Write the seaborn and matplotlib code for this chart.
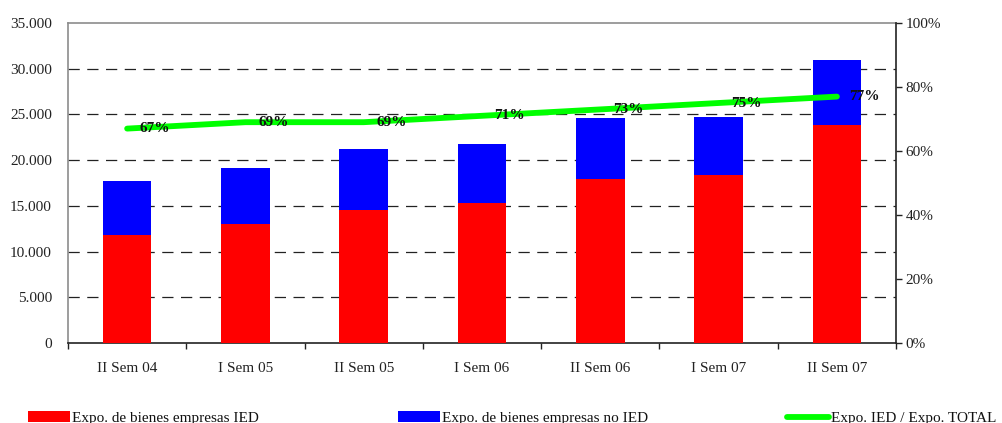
import numpy as np
import pandas as pd
import matplotlib
matplotlib.use("Agg")
import matplotlib.pyplot as plt
from matplotlib.ticker import FuncFormatter, FixedLocator, MultipleLocator
from matplotlib.patches import Patch
from matplotlib.lines import Line2D
import seaborn as sns

# Semesters and export values (USD millions)
periods = ["II Sem 04", "I Sem 05", "II Sem 05", "I Sem 06", "II Sem 06", "I Sem 07", "II Sem 07"]
expo_ied = [11800, 13050, 14600, 15300, 17900, 18400, 23850]
expo_no_ied = [5900, 6100, 6600, 6500, 6700, 6300, 7100]
ratio_ied_total = [0.67, 0.69, 0.69, 0.71, 0.73, 0.75, 0.77]
ratio_labels = ["67%", "69%", "69%", "71%", "73%", "75%", "77%"]

legend_labels = ["Expo. de bienes empresas IED",
                 "Expo. de bienes empresas no IED",
                 "Expo. IED / Expo. TOTAL"]

RED = "#ff0000"
BLUE = "#0000ff"
GREEN = "#00ff00"
FS = 11

sns.set_theme(style="white")
plt.rcParams["font.family"] = ["Liberation Serif", "DejaVu Serif"]
plt.rcParams["font.size"] = FS

df = pd.DataFrame({
    "periodo": periods,
    "ied": expo_ied,
    "no_ied": expo_no_ied,
    "ratio": ratio_ied_total,
})
df["total"] = df["ied"] + df["no_ied"]

fig = plt.figure(figsize=(10.02, 4.23), dpi=100)
ax = fig.add_axes([68 / 1002, 1 - 343 / 423, (896 - 68) / 1002, (343 - 23) / 423])

# Stacked bars: full total in blue, IED portion in red on top of it
sns.barplot(data=df, x="periodo", y="total", color=BLUE, saturation=1,
            width=0.41, linewidth=0, ax=ax, zorder=2)
sns.barplot(data=df, x="periodo", y="ied", color=RED, saturation=1,
            width=0.41, linewidth=0, ax=ax, zorder=3)

ax.set_xlim(-0.5, len(periods) - 0.5)
ax.set_ylim(0, 35000)
ax.yaxis.set_major_locator(MultipleLocator(5000))
ax.yaxis.set_major_formatter(FuncFormatter(lambda v, p: f"{int(v):,}".replace(",", ".")))
ax.set_xlabel("")
ax.set_ylabel("")

# dashed horizontal gridlines
for yv in range(5000, 35000, 5000):
    ax.axhline(yv, color="#222222", lw=0.9, ls=(0, (9, 6)), zorder=1)

ax.tick_params(axis="y", length=0, pad=11.5, labelsize=FS, colors="#222222")
ax.tick_params(axis="x", which="major", length=0, pad=14, labelsize=FS, colors="#222222")
ax.xaxis.set_minor_locator(FixedLocator(np.arange(-0.5, len(periods), 1.0)))
ax.tick_params(axis="x", which="minor", length=4, width=1, color="#222222", direction="out", bottom=True)

for side in ["left", "top"]:
    ax.spines[side].set_color("#8c8c8c")
    ax.spines[side].set_linewidth(1.2)
ax.spines["bottom"].set_color("#222222")
ax.spines["bottom"].set_linewidth(1.2)
ax.spines["right"].set_visible(False)

# Share line on the secondary axis
ax2 = ax.twinx()
sns.pointplot(data=df, x="periodo", y="ratio", color=GREEN, markers="",
              linewidth=4.2, ax=ax2, solid_capstyle="round", zorder=5)
ax2.set_ylim(0, 1)
ax2.set_xlim(-0.5, len(periods) - 0.5)
ax2.yaxis.set_major_locator(MultipleLocator(0.2))
ax2.yaxis.set_major_formatter(FuncFormatter(lambda v, p: f"{v * 100:.0f}%"))
ax2.tick_params(axis="y", length=4, width=1, color="#222222", direction="out",
                pad=3, labelsize=FS, colors="#222222")
ax2.set_ylabel("")
ax2.set_xlabel("")
for side in ["left", "top", "bottom"]:
    ax2.spines[side].set_visible(False)
ax2.spines["right"].set_color("#222222")
ax2.spines["right"].set_linewidth(1.2)

for i, (val, lab) in enumerate(zip(ratio_ied_total, ratio_labels)):
    ax2.annotate(lab, xy=(i, val), xytext=(20, 0), textcoords="offset points",
                 ha="center", va="center", fontsize=FS, fontweight="bold",
                 color="#111111", zorder=6)

# Legend row along the bottom edge
handles = [
    Patch(facecolor=RED, edgecolor="none"),
    Patch(facecolor=BLUE, edgecolor="none"),
    Line2D([0], [0], color=GREEN, lw=4.2, solid_capstyle="round"),
]
anchors = [28 / 1002, 398 / 1002, 787 / 1002]
for h, lab, xa in zip(handles, legend_labels, anchors):
    leg = fig.legend([h], [lab], loc="center left", bbox_to_anchor=(xa, 1 - 418 / 423),
                     frameon=False, borderpad=0, borderaxespad=0, handlelength=2.75,
                     handleheight=0.7, handletextpad=0.15, fontsize=FS)
    for t in leg.get_texts():
        t.set_color("#111111")

fig.savefig("out.png", dpi=100)
